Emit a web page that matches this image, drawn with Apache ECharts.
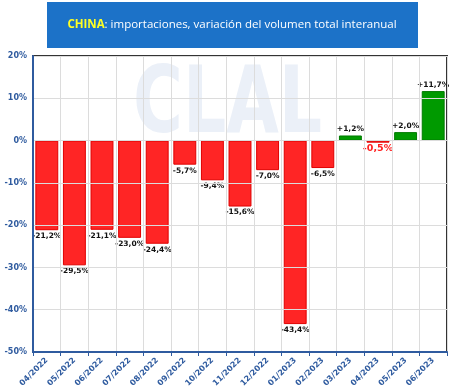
<!DOCTYPE html>
<html><head><meta charset="utf-8">
<script src="https://cdn.jsdelivr.net/npm/echarts@6/dist/echarts.min.js"></script>
<style>html,body{margin:0;padding:0;background:#fff}#c{width:450px;height:390px}</style>
</head><body><div id="c"></div>
<script>
const categories = ['04/2022','05/2022','06/2022','07/2022','08/2022','09/2022','10/2022','11/2022','12/2022','01/2023','02/2023','03/2023','04/2023','05/2023','06/2023'];
const values = [-21.2,-29.5,-21.1,-23.0,-24.4,-5.7,-9.4,-15.6,-7.0,-43.4,-6.5,1.2,-0.5,2.0,11.7];
const yTicks = {min:-50, max:20, interval:10};
const titleMain = 'CHINA';
const titleRest = ': importaciones, variación del volumen total interanual';

const blue = '#2f5b9f';
function fmt(v){ const s = Math.abs(v).toFixed(1).replace('.', ','); return (v>0?'+':'-') + s + '%'; }

const barData = values.map(v => {
  const small = Math.abs(v) < 1 && v < 0;
  return {
    value: v,
    itemStyle: v >= 0 ? {color:'#009a00', borderColor:'#007a00', borderWidth:1} : {color:'#ff2525', borderColor:'#e00000', borderWidth:1},
    label: {
      position: v >= 0 ? 'top' : 'bottom',
      color: small ? '#ff2020' : '#111',
      fontSize: small ? 9.5 : 7.5,
      distance: small ? 1 : 2
    }
  };
});

const chart = echarts.init(document.getElementById('c'));
chart.setOption({
  animation:false,
  grid:{left:33,right:3,top:56,bottom:38,show:true,borderColor:'#333',borderWidth:2,backgroundColor:'#fff'},
  graphic:[
    {type:'rect',shape:{x:47,y:2,width:371,height:46},style:{fill:'#1c72c8'},z:10},
    {type:'text',x:232,y:25,z:11,style:{
      text:'{y|'+titleMain+'}{w|'+titleRest+'}',
      align:'center',verticalAlign:'middle',
      rich:{
        y:{fill:'#ffff22',fontSize:11.5,fontWeight:'bold',fontFamily:'Open Sans'},
        w:{fill:'#ffffff',fontSize:11.5,fontFamily:'Open Sans'}
      }
    }},
    {type:'text',x:133,y:62,z:0,scaleX:0.68,scaleY:0.92,style:{
      text:'CLAL',fill:'#ebf0f8',fontSize:100,fontWeight:'bold',fontFamily:'DejaVu Sans'
    }}
  ],
  xAxis:{type:'category',data:categories,position:'bottom',
     axisLine:{onZero:false,lineStyle:{color:blue,width:2}},
     axisTick:{show:true,interval:0,length:4,lineStyle:{color:blue}},
     axisLabel:{interval:0,rotate:45,color:blue,fontWeight:'bold',fontSize:8,margin:7,fontFamily:'DejaVu Sans'},
     splitLine:{show:true,interval:0,lineStyle:{color:'#dcdcdc',width:1}},
     z:5},
  yAxis:{type:'value',min:yTicks.min,max:yTicks.max,interval:yTicks.interval,
    axisLine:{show:true,lineStyle:{color:blue,width:2}},
    axisTick:{show:false},
    axisLabel:{formatter:'{value}%',color:blue,fontWeight:'bold',fontSize:8,margin:6,fontFamily:'DejaVu Sans'},
    splitLine:{lineStyle:{color:'#dcdcdc',width:1}},
    z:5},
  series:[{type:'bar',data:barData,barCategoryGap:'17%',z:3,
    label:{show:true,fontWeight:'bold',fontFamily:'DejaVu Sans',formatter:p=>fmt(p.value)}}]
});
</script></body></html>
